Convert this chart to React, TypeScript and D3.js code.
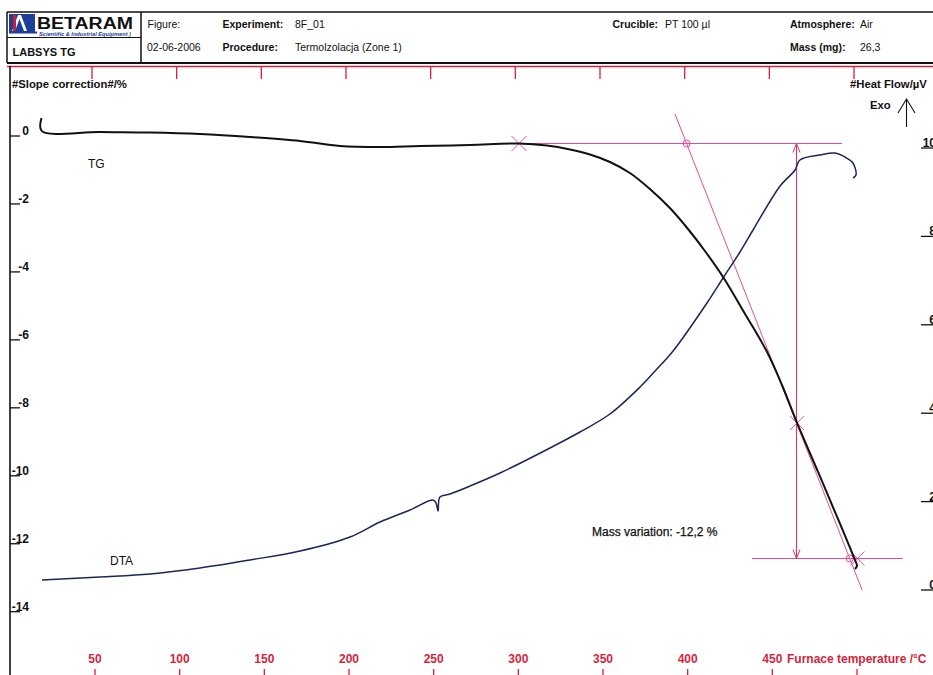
import React from "react";
import * as d3 from "d3";

// TG trace: furnace temperature (°C) and mass change (%)
const tgTemp = [18.4, 18.5, 53.0, 82.5, 112.0, 141.5, 171.1, 194.7, 218.3, 241.9, 271.5, 300.4, 316.9, 330.5, 342.3, 354.1, 365.9, 377.7, 389.5, 400.2, 410.2, 420.9, 433.9, 446.9, 455.7, 464.6, 477.0, 490.0, 498.8, 500.0, 498.8];
const tgValue = [0.53, 0.15, 0.118, 0.103, 0.059, -0.029, -0.147, -0.294, -0.324, -0.294, -0.265, -0.221, -0.280, -0.397, -0.545, -0.765, -1.089, -1.56, -2.12, -2.737, -3.384, -4.149, -5.238, -6.357, -7.328, -8.446, -9.888, -11.418, -12.477, -12.654, -12.742];

// DTA trace: furnace temperature (°C) and heat flow (µV)
const dtaTemp = [18.7, 53.0, 82.5, 112.0, 141.5, 171.1, 200.6, 218.3, 236.0, 249.6, 251.4, 252.6, 253.7, 259.6, 271.5, 289.2, 318.7, 336.4, 354.1, 371.9, 381.3, 391.4, 411.4, 420.9, 430.9, 438.6, 454.5, 463.4, 466.3, 478.2, 487.0, 492.9, 497.6, 499.4, 497.6];
const dtaValue = [0.226, 0.294, 0.362, 0.498, 0.679, 0.882, 1.199, 1.538, 1.81, 2.036, 1.968, 1.787, 2.104, 2.172, 2.353, 2.647, 3.213, 3.575, 3.982, 4.593, 4.977, 5.407, 6.493, 7.059, 7.647, 8.145, 9.136, 9.502, 9.729, 9.842, 9.887, 9.796, 9.661, 9.389, 9.321];

// Axis ticks
const tgTicks = [0, -2, -4, -6, -8, -10, -12, -14];
const dtaTicks = [10, 8, 6, 4, 2, 0];
const tempLabels = [50, 100, 150, 200, 250, 300, 350, 400, 450];
const tempMarks = [50, 100, 150, 200, 250, 300, 350, 400, 450, 500];

// Mass-loss evaluation (onset / tangent construction)
const onsetTemp = 300.4;
const onsetLevel = -0.22;
const massVariation = -12.2;
const upperLevelRange = [300.4, 491.2];
const lowerLevelRange = [438, 527];
const tangentTemps = [392.5, 503];
const tangentValues = [0.65, -13.36];
const inflectionPoint = [464.6, -8.45];
const arrowTemp = 464;
const endTemp = 500.2;

const W = 933;
const H = 675;
const FONT = "'Liberation Sans', Arial, Helvetica, sans-serif";
const RED = "#d61f3c";
const PINK = "#e24f96";
const PINK_DARK = "#d6346c";

const x = d3.scaleLinear().domain([50, 500]).range([95, 857]);
const yTg = d3.scaleLinear().domain([0, -14]).range([136, 611.7]);
const yDta = d3.scaleLinear().domain([0, 10]).range([590, 148]);

// snap a coordinate to the pixel grid so thin lines stay crisp
const crisp = (v: number) => Math.round(v) + 0.5;

function Cross({ cx, cy, r = 7 }: { cx: number; cy: number; r?: number }) {
  return (
    <g stroke={PINK} strokeWidth={1}>
      <line x1={cx - r} y1={cy - r} x2={cx + r} y2={cy + r} />
      <line x1={cx - r} y1={cy + r} x2={cx + r} y2={cy - r} />
    </g>
  );
}

export default function App() {
  const tgLine = d3
    .line<number>()
    .x((i) => x(tgTemp[i]))
    .y((i) => yTg(tgValue[i]))
    .curve(d3.curveCatmullRom.alpha(0.5));
  const dtaLine = d3
    .line<number>()
    .x((i) => x(dtaTemp[i]))
    .y((i) => yDta(dtaValue[i]))
    .curve(d3.curveCatmullRom.alpha(0.5));

  const yTop = crisp(yTg(onsetLevel));
  const yBottom = crisp(yTg(onsetLevel + massVariation));

  // tangent line in pixel space, and its crossings with the two levels
  const tx1 = x(tangentTemps[0]);
  const ty1 = yTg(tangentValues[0]);
  const tx2 = x(tangentTemps[1]);
  const ty2 = yTg(tangentValues[1]);
  const slope = (ty2 - ty1) / (tx2 - tx1);
  const crossTop = tx1 + (yTop - ty1) / slope;
  const crossBottom = tx1 + (yBottom - ty1) / slope;
  const ax = crisp(x(arrowTemp));

  return (
    <svg
      width={W}
      height={H}
      viewBox={`0 0 ${W} ${H}`}
      style={{ position: "absolute", left: 0, top: 0, background: "#fff" }}
      fontFamily={FONT}
    >
      <rect width={W} height={H} fill="#fff" />

      {/* header block */}
      <g stroke="#111" fill="none">
        <line x1={7} y1={12} x2={W} y2={12} strokeWidth={1.5} />
        <line x1={7} y1={63} x2={W} y2={63} strokeWidth={2} />
        <line x1={7} y1={12} x2={7} y2={63} strokeWidth={1.5} />
        <line x1={141} y1={12} x2={141} y2={63} strokeWidth={1.5} />
        <line x1={7} y1={37.5} x2={141} y2={37.5} strokeWidth={1.2} />
      </g>
      {/* logo */}
      <rect x={9} y={14} width={26} height={18} fill="#1d3f9a" />
      <path d="M12 31 L18 15 L21 15 L27 31 L24 31 L19.5 19 L15 31 Z" fill="#fff" />
      <rect x={13} y={15} width={3} height={16} fill="#c8203a" />
      <rect x={9} y={31.5} width={28} height={2} fill="#1d3f9a" />
      <text x={37} y={29} fontSize={16} fontWeight={900} textLength={96} lengthAdjust="spacingAndGlyphs" fill="#111">
        BETARAM
      </text>
      <text x={39} y={35.5} fontSize={5.2} fontWeight={700} fontStyle="italic" fill="#1d3f9a" textLength={92} lengthAdjust="spacingAndGlyphs">
        Scientific &amp; Industrial Equipment )
      </text>
      <text x={12.5} y={56} fontSize={11} fontWeight={700} fill="#111">LABSYS TG</text>

      <g fontSize={10.5} fill="#111">
        <text x={147.5} y={27.5}>Figure:</text>
        <text x={147} y={51}>02-06-2006</text>
        <text x={222.5} y={27.5} fontWeight={700}>Experiment:</text>
        <text x={295} y={27.5}>8F_01</text>
        <text x={222.5} y={51} fontWeight={700}>Procedure:</text>
        <text x={295} y={51}>Termolzolacja (Zone 1)</text>
        <text x={612.5} y={27.5} fontWeight={700}>Crucible:</text>
        <text x={665} y={27.5}>PT 100 µl</text>
        <text x={790} y={27.5} fontWeight={700}>Atmosphere:</text>
        <text x={860} y={27.5}>Air</text>
        <text x={790} y={51} fontWeight={700}>Mass (mg):</text>
        <text x={860} y={51}>26,3</text>
      </g>

      {/* top temperature axis */}
      <line x1={7} y1={66.5} x2={W} y2={66.5} stroke={RED} strokeWidth={1.5} />
      {tempMarks.map((t) => (
        <line key={`tt${t}`} x1={x(t) - 3} y1={66.5} x2={x(t) - 3} y2={79} stroke={RED} strokeWidth={1.3} />
      ))}

      {/* bottom temperature axis */}
      {tempMarks.map((t) => (
        <line key={`bt${t}`} x1={x(t)} y1={669} x2={x(t)} y2={H} stroke={RED} strokeWidth={1.3} />
      ))}
      <g fontSize={12} fontWeight={700} fill={RED} textAnchor="middle">
        {tempLabels.map((t) => (
          <text key={`bl${t}`} x={x(t)} y={663}>{t}</text>
        ))}
      </g>
      <text x={787} y={663} fontSize={12} fontWeight={700} fill={RED}>Furnace temperature /°C</text>

      {/* left TG axis */}
      <line x1={10} y1={66} x2={10} y2={H} stroke="#111" strokeWidth={1.6} />
      {tgTicks.map((v) => (
        <g key={`l${v}`}>
          <line x1={10} y1={yTg(v)} x2={20} y2={yTg(v)} stroke="#111" strokeWidth={1.3} />
          <text x={29} y={yTg(v) - 1} fontSize={12} fontWeight={700} textAnchor="end" fill="#111">{v}</text>
        </g>
      ))}
      <text x={12} y={88} fontSize={11.3} fontWeight={700} fill="#111">#Slope correction#/%</text>

      {/* right DTA axis */}
      {dtaTicks.map((v) => (
        <g key={`r${v}`}>
          <line x1={921} y1={yDta(v)} x2={W} y2={yDta(v)} stroke="#111" strokeWidth={1.3} />
          <text x={936} y={yDta(v) - 1} fontSize={12} fontWeight={700} textAnchor="end" fill="#111">{v}</text>
        </g>
      ))}
      <text x={850} y={88} fontSize={11.3} fontWeight={700} fill="#111">#Heat Flow/µV</text>
      <text x={870} y={109} fontSize={11.3} fontWeight={700} fill="#111">Exo</text>
      <g stroke="#111" strokeWidth={1.1} fill="none">
        <line x1={906.5} y1={99} x2={906.5} y2={127} />
        <polyline points="898,113 906.5,99 915,113" />
      </g>

      {/* evaluation construction */}
      <g fill="none">
        <line x1={x(upperLevelRange[0])} y1={yTop} x2={x(upperLevelRange[1])} y2={yTop} stroke={PINK} strokeWidth={1.2} />
        <line x1={x(lowerLevelRange[0])} y1={yBottom} x2={x(lowerLevelRange[1])} y2={yBottom} stroke={PINK} strokeWidth={1.2} />
        <line x1={tx1} y1={ty1} x2={tx2} y2={ty2} stroke={PINK} strokeWidth={1} />
        <line x1={ax} y1={yTop} x2={ax} y2={yBottom} stroke={PINK_DARK} strokeWidth={1.1} />
        <polyline points={`${ax - 3.5},${yTop + 9} ${ax},${yTop} ${ax + 3.5},${yTop + 9}`} stroke={PINK_DARK} strokeWidth={1} />
        <polyline points={`${ax - 3.5},${yBottom - 9} ${ax},${yBottom} ${ax + 3.5},${yBottom - 9}`} stroke={PINK_DARK} strokeWidth={1} />
        <circle cx={crossTop} cy={yTop} r={3.5} stroke={PINK} strokeWidth={1} />
        <circle cx={crossBottom} cy={yBottom} r={3.5} stroke={PINK} strokeWidth={1} />
      </g>
      <Cross cx={x(onsetTemp)} cy={yTop} r={7.5} />
      <Cross cx={x(inflectionPoint[0])} cy={yTg(inflectionPoint[1])} r={7} />
      <Cross cx={x(endTemp)} cy={yBottom} r={7} />

      {/* curves */}
      <path d={dtaLine(d3.range(dtaTemp.length)) || ""} fill="none" stroke="#1c2656" strokeWidth={1.5} strokeLinejoin="round" />
      <path d={tgLine(d3.range(tgTemp.length)) || ""} fill="none" stroke="#111" strokeWidth={2} strokeLinejoin="round" />

      {/* labels */}
      <text x={88} y={168} fontSize={12} fill="#111">TG</text>
      <text x={110} y={565} fontSize={12} fill="#111">DTA</text>
      <text x={592} y={536} fontSize={12} fill="#111" stroke="#111" strokeWidth={0.25}>
        Mass variation: {massVariation.toFixed(1).replace(".", ",")} %
      </text>
    </svg>
  );
}
